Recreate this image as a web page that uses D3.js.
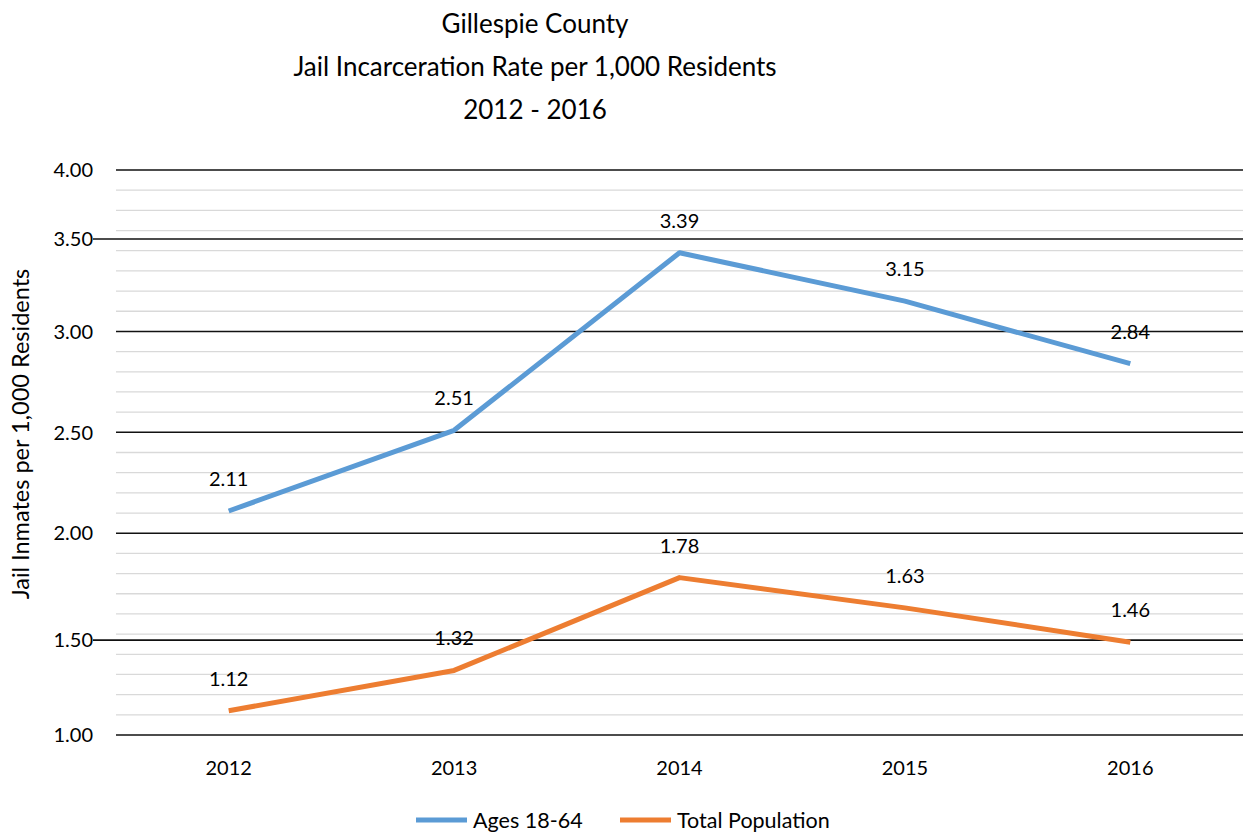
<!DOCTYPE html>
<html>
<head>
<meta charset="utf-8">
<script src="https://cdn.jsdelivr.net/npm/d3@7"></script>
<style>
  body { margin: 0; background: #fff; }
  svg text { font-family: Lato, "Open Sans", "Liberation Sans", sans-serif; fill: #000; }
</style>
</head>
<body>
<svg id="chart" width="1246" height="833"></svg>
<script>
// ---- data ----
const titleLines = ["Gillespie County", "Jail Incarceration Rate per 1,000 Residents", "2012 - 2016"];
const years = ["2012", "2013", "2014", "2015", "2016"];
const ages18to64 = [2.11, 2.51, 3.39, 3.15, 2.84];
const totalPopulation = [1.12, 1.32, 1.78, 1.63, 1.46];
const seriesNames = ["Ages 18-64", "Total Population"];
const yAxisTitle = "Jail Inmates per 1,000 Residents";
// labelled rule lines: value where each rule sits, and the label printed beside it
const ruleValues = [1.0, 1.47, 2.0, 2.5, 3.0, 3.458, 3.8];
const ruleLabels = ["1.00", "1.50", "2.00", "2.50", "3.00", "3.50", "4.00"];
// rules drawn with a short stub reaching toward their label
const stubbedRules = ["1.50", "3.50"];
// minor gridlines every 0.1
const minorValues = d3.range(11, 38).map(d => d / 10);
const valueDomain = [1.0, 3.8];

// ---- layout ----
const W = 1246, H = 833;
const plot = { left: 116, right: 1243, top: 170, bottom: 735 };
const colors = ["#5b9bd5", "#ed7d31"];

const svg = d3.select("#chart");

const x = d3.scaleBand().domain(years).range([plot.left, plot.right]);
const y = d3.scaleLinear().domain(valueDomain).range([plot.bottom, plot.top]);
const xc = d => x(d) + x.bandwidth() / 2;

// title
const title = svg.append("g").attr("class", "title");
titleLines.forEach((t, i) => {
  title.append("text")
    .attr("x", 535).attr("y", 33 + i * 43)
    .attr("text-anchor", "middle")
    .style("font-size", "26px")
    .text(t);
});

// minor gridlines
const majorSet = new Set(ruleValues.map(v => v.toFixed(2)));
svg.append("g").attr("class", "minor-grid")
  .selectAll("line")
  .data(minorValues.filter(v => !majorSet.has(v.toFixed(2))))
  .join("line")
  .attr("x1", plot.left).attr("x2", plot.right)
  .attr("y1", d => y(d)).attr("y2", d => y(d))
  .attr("stroke", "#d9d9d9").attr("stroke-width", 1.3);

// labelled rules
const rules = ruleValues.map((v, i) => ({ v, label: ruleLabels[i] }));
svg.append("g").attr("class", "rules")
  .selectAll("line")
  .data(rules)
  .join("line")
  .attr("x1", d => stubbedRules.includes(d.label) ? plot.left - 23 : plot.left)
  .attr("x2", plot.right)
  .attr("y1", d => y(d.v)).attr("y2", d => y(d.v))
  .attr("stroke", "#111").attr("stroke-width", 1.6);

// y labels
svg.append("g").attr("class", "y-labels")
  .selectAll("text")
  .data(rules)
  .join("text")
  .attr("x", 93).attr("y", d => y(d.v))
  .attr("dy", "0.36em")
  .attr("text-anchor", "end")
  .style("font-size", "20px")
  .text(d => d.label);

// y axis title
svg.append("text")
  .attr("transform", `translate(29,434) rotate(-90)`)
  .attr("text-anchor", "middle")
  .style("font-size", "23.5px")
  .text(yAxisTitle);

// x labels
svg.append("g").attr("class", "x-labels")
  .selectAll("text")
  .data(years)
  .join("text")
  .attr("x", d => xc(d)).attr("y", 775)
  .attr("text-anchor", "middle")
  .style("font-size", "20px")
  .text(d => d);

// series
const series = [ages18to64, totalPopulation].map((vals, i) => ({
  name: seriesNames[i], color: colors[i],
  points: years.map((yr, j) => ({ yr, v: vals[j] }))
}));

const line = d3.line().x(d => xc(d.yr)).y(d => y(d.v));

svg.append("g").attr("class", "series")
  .selectAll("path")
  .data(series)
  .join("path")
  .attr("d", d => line(d.points))
  .attr("fill", "none")
  .attr("stroke", d => d.color)
  .attr("stroke-width", 5)
  .attr("stroke-linejoin", "round");

// value labels
series.forEach(s => {
  svg.append("g").attr("class", "value-labels")
    .selectAll("text")
    .data(s.points)
    .join("text")
    .attr("x", d => xc(d.yr))
    .attr("y", d => y(d.v) - 25)
    .attr("text-anchor", "middle")
    .style("font-size", "20px")
    .text(d => d.v.toFixed(2));
});

// legend
const legend = svg.append("g").attr("class", "legend");
const legendX = [416, 620];
series.forEach((s, i) => {
  const g = legend.append("g").attr("transform", `translate(${legendX[i]},820)`);
  g.append("line").attr("x1", 0).attr("x2", 51).attr("y1", 0).attr("y2", 0)
    .attr("stroke", s.color).attr("stroke-width", 5);
  g.append("text").attr("x", 57).attr("y", 0).attr("dy", "0.36em")
    .style("font-size", "21.5px").text(s.name);
});
</script>
</body>
</html>
